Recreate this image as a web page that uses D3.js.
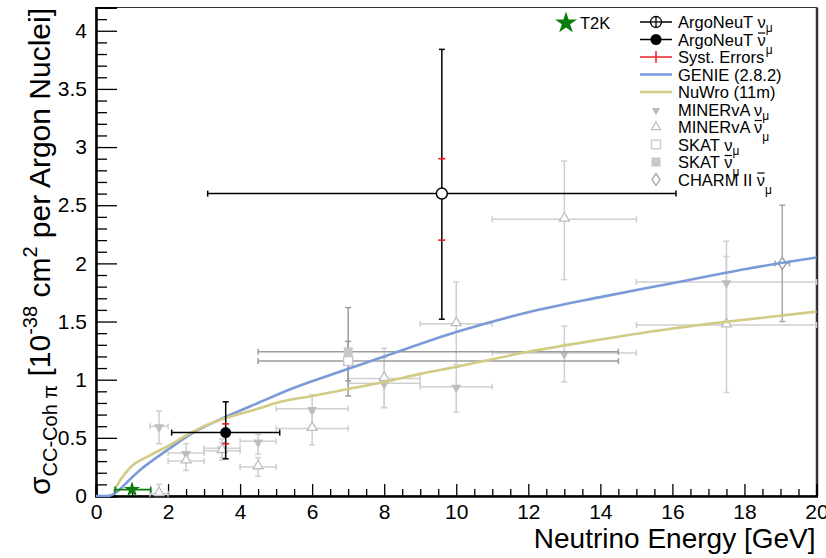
<!DOCTYPE html>
<html><head><meta charset="utf-8">
<script src="https://cdn.jsdelivr.net/npm/d3@7"></script>
<style>
body{margin:0;background:#fff}
svg{display:block}
text{font-family:"Liberation Sans",Arial,Helvetica,sans-serif;fill:#000}
</style>
</head><body>
<svg id="chart" width="826" height="558"></svg>
<script>
// ---- data -------------------------------------------------------------
// ArgoNeuT neutrino / antineutrino results (energy, x range, sigma, stat+syst, syst)
const argoEnergy   = [9.6, 3.6];
const argoELo      = [3.1, 2.1];
const argoEHi      = [16.1, 5.1];
const argoSigma    = [2.6, 0.545];
const argoTotLo    = [1.52, 0.32];
const argoTotHi    = [3.84, 0.81];
const argoSystLo   = [2.2, 0.45];
const argoSystHi   = [2.9, 0.62];

// MINERvA (shared energy bins)
const minervaE     = [1.75, 2.5, 3.5, 4.5, 6.0, 8.0, 10.0, 13.0, 17.5];
const minervaELo   = [1.5, 2.0, 3.0, 4.0, 5.0, 7.0, 9.0, 11.0, 15.0];
const minervaEHi   = [2.0, 3.0, 4.0, 5.0, 7.0, 9.0, 11.0, 15.0, 20.0];
const minervaNu    = [0.60, 0.37, 0.41, 0.47, 0.75, 0.97, 0.94, 1.23, 1.84];
const minervaNuLo  = [0.45, 0.29, 0.33, 0.36, 0.60, 0.76, 0.72, 0.98, 1.50];
const minervaNuHi  = [0.73, 0.45, 0.49, 0.53, 0.87, 1.19, 1.11, 1.46, 2.19];
const minervaBar   = [0.02, 0.30, 0.39, 0.25, 0.58, 1.01, 1.48, 2.38, 1.47];
const minervaBarLo = [0.00, 0.22, 0.31, 0.17, 0.44, 0.76, 1.13, 1.86, 0.89];
const minervaBarHi = [0.10, 0.38, 0.46, 0.33, 0.72, 1.27, 1.84, 2.88, 2.06];

// SKAT (nu, nubar) at 7 GeV
const skatE     = [7.0, 7.0];
const skatELo   = [4.5, 4.5];
const skatEHi   = [14.5, 14.5];
const skatSigma = [1.16, 1.24];
const skatLo    = [0.99, 0.86];
const skatHi    = [1.33, 1.62];

// CHARM II antineutrino
const charmE = [19.05], charmELo = [18.85], charmEHi = [19.25];
const charmSigma = [2.0], charmLo = [1.5], charmHi = [2.5];

// T2K
const t2kE = [1.0], t2kELo = [0.53], t2kEHi = [1.52], t2kSigma = [0.055];

// Model predictions: GENIE (2.8.2) and NuWro (11m)
const genieE = [0, 0.3, 0.45, 0.6, 0.8, 1.0, 1.25, 1.5, 2.0, 2.7, 3.6, 4.5, 5.5, 6.5, 8, 10, 12, 14, 16, 18, 20];
const genieS = [0, 0, 0.01, 0.04, 0.10, 0.16, 0.23, 0.29, 0.40, 0.545, 0.68, 0.80, 0.93, 1.04, 1.20, 1.41, 1.58, 1.71, 1.83, 1.95, 2.05];
const nuwroE = [0.5, 0.6, 0.8, 1.0, 1.25, 1.5, 2.0, 2.5, 3.0, 3.6, 4.5, 5.0, 6.0, 7.0, 8.0, 9.0, 10, 12, 14, 16, 18, 20];
const nuwroS = [0.04, 0.10, 0.19, 0.26, 0.31, 0.35, 0.43, 0.52, 0.60, 0.67, 0.75, 0.80, 0.86, 0.92, 0.98, 1.05, 1.11, 1.24, 1.345, 1.44, 1.515, 1.585];

// Axis ticks
const xTicks = [0, 2, 4, 6, 8, 10, 12, 14, 16, 18, 20];
const xTickLabels = ["0","2","4","6","8","10","12","14","16","18","20"];
const yTicks = [0, 0.5, 1, 1.5, 2, 2.5, 3, 3.5, 4];
const yTickLabels = ["0","0.5","1","1.5","2","2.5","3","3.5","4"];

// ---- layout -----------------------------------------------------------
const svg = d3.select("#chart");
const L = 96, R = 816.5, T = 7.5, B = 496;
const x = d3.scaleLinear().domain([0, 20]).range([L, R]);
const y = d3.scaleLinear().domain([0, 4.2]).range([B, T]);

const COL = {
  genie: "#7b9ad8", nuwro: "#d3cb86", minerva: "#cfcfcf", minervaMk: "#bdbdbd",
  skat: "#9c9c9c", skatMk: "#c8c8c8", charm: "#a8a8a8", t2k: "#0a7d0a", syst: "#e8141a"
};

// frame
svg.append("rect").attr("x", L).attr("y", T).attr("width", R - L).attr("height", B - T)
  .attr("fill", "none").attr("stroke", "#333").attr("stroke-width", 1);
svg.append("line").attr("x1", R + 0.5).attr("x2", R + 0.5).attr("y1", T).attr("y2", B)
  .attr("stroke", "#333").attr("stroke-width", 2.5);

// ---- axes -------------------------------------------------------------
const minorX = d3.range(0, 20.001, 0.5).filter(v => !xTicks.includes(v));
const minorY = d3.range(0, 4.2001, 0.1).map(v => +v.toFixed(1)).filter(v => !yTicks.includes(v));

svg.append("g").attr("transform", `translate(0,${B})`)
  .call(d3.axisBottom(x).tickValues(xTicks).tickSize(-12).tickPadding(8)
    .tickFormat((d, i) => xTickLabels[i]));
svg.append("g").attr("transform", `translate(0,${B})`)
  .call(d3.axisBottom(x).tickValues(minorX).tickSize(-7).tickFormat(""));
svg.append("g").attr("transform", `translate(${L},0)`)
  .call(d3.axisLeft(y).tickValues(yTicks).tickSize(-21).tickPadding(9)
    .tickFormat((d, i) => yTickLabels[i]));
svg.append("g").attr("transform", `translate(${L},0)`)
  .call(d3.axisLeft(y).tickValues(minorY).tickSize(-11).tickFormat(""));

svg.selectAll(".domain").attr("stroke", "#000").attr("stroke-width", 2);
svg.selectAll(".tick line").attr("stroke", "#000").attr("stroke-width", 1.3);
svg.selectAll(".tick text").attr("font-size", 21).attr("font-family", '"Liberation Sans",Arial,sans-serif');

// axis titles
svg.append("text").attr("x", R - 1).attr("y", 548).attr("text-anchor", "end")
  .attr("font-size", 28).text("Neutrino Energy [GeV]");

const yl = svg.append("text").attr("transform", "translate(50,495) rotate(-90)")
  .attr("font-size", 30);
yl.append("tspan").text("σ");
yl.append("tspan").attr("font-size", 20).attr("dy", 7).text("CC-Coh π");
yl.append("tspan").attr("dy", -7).text(" [10");
yl.append("tspan").attr("font-size", 20).attr("dy", -13).text("-38");
yl.append("tspan").attr("dy", 13).text(" cm");
yl.append("tspan").attr("font-size", 20).attr("dy", -13).text("2");
yl.append("tspan").attr("dy", 13).text(" per Argon Nuclei]");

// ---- plot helpers -----------------------------------------------------
const plot = svg.append("g");

function errorBars(g, E, ELo, EHi, S, SLo, SHi, color, width, cap) {
  E.forEach((e, i) => {
    const cy = y(S[i]), cx = x(e);
    g.append("line").attr("x1", x(ELo[i])).attr("x2", x(EHi[i])).attr("y1", cy).attr("y2", cy)
      .attr("stroke", color).attr("stroke-width", width);
    [ELo[i], EHi[i]].forEach(v => g.append("line").attr("x1", x(v)).attr("x2", x(v))
      .attr("y1", cy - cap).attr("y2", cy + cap).attr("stroke", color).attr("stroke-width", width));
    g.append("line").attr("x1", cx).attr("x2", cx).attr("y1", y(SLo[i])).attr("y2", y(SHi[i]))
      .attr("stroke", color).attr("stroke-width", width);
    [SLo[i], SHi[i]].forEach(v => { if (v > 0) g.append("line").attr("x1", cx - cap).attr("x2", cx + cap)
      .attr("y1", y(v)).attr("y2", y(v)).attr("stroke", color).attr("stroke-width", width); });
  });
}

const triUp = d3.symbol().type(d3.symbolTriangle).size(42);
const sq = d3.symbol().type(d3.symbolSquare).size(80);
function diamondPath(w, h) { return `M0,${-h}L${w},0L0,${h}L${-w},0Z`; }

// MINERvA
errorBars(plot, minervaE, minervaELo, minervaEHi, minervaNu, minervaNuLo, minervaNuHi, COL.minerva, 1.5, 3);
errorBars(plot, minervaE, minervaELo, minervaEHi, minervaBar, minervaBarLo, minervaBarHi, COL.minerva, 1.5, 3);
minervaE.forEach((e, i) => {
  plot.append("path").attr("d", triUp()).attr("transform", `translate(${x(e)},${y(minervaNu[i]) + 1}) rotate(180)`)
    .attr("fill", COL.minervaMk);
  plot.append("path").attr("d", triUp()).attr("transform", `translate(${x(e)},${y(minervaBar[i]) - 1})`)
    .attr("fill", "#fff").attr("stroke", COL.minervaMk).attr("stroke-width", 1.3);
});

// SKAT
errorBars(plot, skatE, skatELo, skatEHi, skatSigma, skatLo, skatHi, COL.skat, 1.5, 3);
plot.append("path").attr("d", sq()).attr("transform", `translate(${x(skatE[1])},${y(skatSigma[1])})`)
  .attr("fill", COL.skatMk);
plot.append("path").attr("d", sq()).attr("transform", `translate(${x(skatE[0])},${y(skatSigma[0])})`)
  .attr("fill", "#fff").attr("stroke", COL.skatMk).attr("stroke-width", 1.5);

// CHARM II
errorBars(plot, charmE, charmELo, charmEHi, charmSigma, charmLo, charmHi, COL.charm, 1.5, 3);
plot.append("path").attr("d", diamondPath(4, 6)).attr("transform", `translate(${x(charmE[0])},${y(charmSigma[0])})`)
  .attr("fill", "#fff").attr("stroke", "#999").attr("stroke-width", 1.3);

// model curves
const line = d3.line().curve(d3.curveMonotoneX);
plot.append("path").attr("d", line(genieE.map((e, i) => [x(e), y(genieS[i])])))
  .attr("fill", "none").attr("stroke", COL.genie).attr("stroke-width", 2.6);
plot.append("path").attr("d", line(nuwroE.map((e, i) => [x(e), y(nuwroS[i])])))
  .attr("fill", "none").attr("stroke", COL.nuwro).attr("stroke-width", 2.6);

// T2K
t2kE.forEach((e, i) => {
  const cy = y(t2kSigma[i]);
  plot.append("line").attr("x1", x(t2kELo[i])).attr("x2", x(t2kEHi[i])).attr("y1", cy).attr("y2", cy)
    .attr("stroke", COL.t2k).attr("stroke-width", 1.6);
  [t2kELo[i], t2kEHi[i]].forEach(v => plot.append("line").attr("x1", x(v)).attr("x2", x(v))
    .attr("y1", cy - 3).attr("y2", cy + 3).attr("stroke", COL.t2k).attr("stroke-width", 1.6));
  plot.append("path").attr("d", d3.symbol().type(d3.symbolStar).size(80)())
    .attr("transform", `translate(${x(e)},${cy})`).attr("fill", COL.t2k);
});

// ArgoNeuT
errorBars(plot, argoEnergy, argoELo, argoEHi, argoSigma, argoTotLo, argoTotHi, "#000", 1.5, 3);
argoEnergy.forEach((e, i) => {
  [argoSystLo[i], argoSystHi[i]].forEach(v => plot.append("line")
    .attr("x1", x(e) - 3.5).attr("x2", x(e) + 3.5).attr("y1", y(v)).attr("y2", y(v))
    .attr("stroke", COL.syst).attr("stroke-width", 1.6));
});
plot.append("circle").attr("cx", x(argoEnergy[0])).attr("cy", y(argoSigma[0])).attr("r", 5.5)
  .attr("fill", "#fff").attr("stroke", "#000").attr("stroke-width", 1.5);
plot.append("circle").attr("cx", x(argoEnergy[1])).attr("cy", y(argoSigma[1])).attr("r", 5.5)
  .attr("fill", "#000");

// ---- legend -----------------------------------------------------------
const leg = svg.append("g");
const legRows = [22, 39.5, 57, 74.5, 92, 109.5, 127, 144.5, 162, 179.5];
const mx = 656, tx = 678, fs = 16.5;

function legText(row, main, nu) {
  const t = leg.append("text").attr("x", tx).attr("y", legRows[row] + 6).attr("font-size", fs);
  t.append("tspan").text(main);
  if (nu === "nu") {
    t.append("tspan").text("ν");
    t.append("tspan").attr("font-size", 12).attr("dy", 4).text("μ");
  } else if (nu === "nubar") {
    t.append("tspan").text("ν");
    t.append("tspan").attr("font-size", 12).attr("dy", 8).text("μ");
    // bar over the nu
    const n = t.node(), k = main.length;
    const s = n.getStartPositionOfChar(k).x, e = n.getEndPositionOfChar(k).x;
    leg.append("line").attr("x1", s + 0.5).attr("x2", e - 0.5)
      .attr("y1", legRows[row] - 6.5).attr("y2", legRows[row] - 6.5)
      .attr("stroke", "#000").attr("stroke-width", 1.2);
  }
}
function legLine(row, color, w) {
  leg.append("line").attr("x1", 640).attr("x2", 672).attr("y1", legRows[row]).attr("y2", legRows[row])
    .attr("stroke", color).attr("stroke-width", w);
}

legLine(0, "#000", 1.5);
leg.append("circle").attr("cx", mx).attr("cy", legRows[0]).attr("r", 5.5).attr("fill", "#fff").attr("stroke", "#000").attr("stroke-width", 1.3);
leg.append("line").attr("x1", mx).attr("x2", mx).attr("y1", legRows[0] - 5.5).attr("y2", legRows[0] + 5.5).attr("stroke", "#000").attr("stroke-width", 1.3);
leg.append("line").attr("x1", mx - 5.5).attr("x2", mx + 5.5).attr("y1", legRows[0]).attr("y2", legRows[0]).attr("stroke", "#000").attr("stroke-width", 1.3);
legText(0, "ArgoNeuT ", "nu");

legLine(1, "#000", 1.5);
leg.append("circle").attr("cx", mx).attr("cy", legRows[1]).attr("r", 5.5).attr("fill", "#000");
legText(1, "ArgoNeuT ", "nubar");

legLine(2, COL.syst, 1.4);
leg.append("line").attr("x1", mx).attr("x2", mx).attr("y1", legRows[2] - 6).attr("y2", legRows[2] + 6).attr("stroke", COL.syst).attr("stroke-width", 1.4);
legText(2, "Syst. Errors", null);

legLine(3, COL.genie, 2.6);
legText(3, "GENIE (2.8.2)", null);
legLine(4, COL.nuwro, 2.6);
legText(4, "NuWro (11m)", null);

leg.append("path").attr("d", d3.symbol().type(d3.symbolTriangle).size(30)())
  .attr("transform", `translate(${mx},${legRows[5] + 1}) rotate(180)`).attr("fill", COL.minervaMk);
legText(5, "MINERvA ", "nu");
leg.append("path").attr("d", d3.symbol().type(d3.symbolTriangle).size(36)())
  .attr("transform", `translate(${mx},${legRows[6]})`).attr("fill", "#fff").attr("stroke", COL.minervaMk).attr("stroke-width", 1.2);
legText(6, "MINERvA ", "nubar");
leg.append("path").attr("d", sq()).attr("transform", `translate(${mx},${legRows[7]})`)
  .attr("fill", "#fff").attr("stroke", COL.skatMk).attr("stroke-width", 1.3);
legText(7, "SKAT ", "nu");
leg.append("path").attr("d", sq()).attr("transform", `translate(${mx},${legRows[8]})`)
  .attr("fill", COL.skatMk);
legText(8, "SKAT ", "nubar");
leg.append("path").attr("d", diamondPath(4, 6)).attr("transform", `translate(${mx},${legRows[9]})`)
  .attr("fill", "#fff").attr("stroke", "#999").attr("stroke-width", 1.2);
legText(9, "CHARM II ", "nubar");

// T2K legend entry
leg.append("path").attr("d", d3.symbol().type(d3.symbolStar).size(150)())
  .attr("transform", `translate(566,23)`).attr("fill", COL.t2k);
leg.append("text").attr("x", 580).attr("y", 29).attr("font-size", fs).text("T2K");
</script>
</body></html>
